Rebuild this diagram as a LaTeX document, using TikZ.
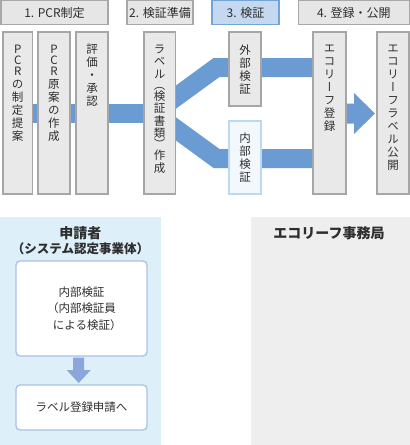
\documentclass[tikz,border=0pt]{standalone}
\usepackage{fontspec}
\setmainfont{Noto Sans CJK JP}
\newfontfamily\vfont[RawFeature=+vert]{Noto Sans CJK JP}
\usetikzlibrary{calc}
\definecolor{txt}{HTML}{2E2E2E}
\definecolor{hdrfill}{HTML}{E6E6E6}
\definecolor{hdrline}{HTML}{A8A8A8}
\definecolor{boxfill}{HTML}{E9E9E9}
\definecolor{boxline}{HTML}{A6A6A6}
\definecolor{selfill}{HTML}{C4D9F0}
\definecolor{selline}{HTML}{74A3D6}
\definecolor{inlfill}{HTML}{F3F8FD}
\definecolor{inlline}{HTML}{BCD9F2}
\definecolor{bandc}{HTML}{6A9BD3}
\definecolor{panelL}{HTML}{DDF0FA}
\definecolor{panelR}{HTML}{EEEEEE}
\definecolor{wline}{HTML}{A9C0E8}
\definecolor{arrowc}{HTML}{8AA6DC}
\pgfdeclarelayer{bg}
\pgfsetlayers{bg,main}
\tikzset{
  hdr/.style={draw=hdrline, fill=hdrfill, line width=1.2pt, inner sep=0pt, text=txt,
    font=\fontsize{12}{14}\selectfont, minimum height=24pt},
  hdrsel/.style={hdr, draw=selline, fill=selfill},
  vbox/.style={draw=boxline, fill=boxfill, line width=1.2pt, inner sep=0pt},
  vboxin/.style={vbox, draw=inlline, fill=inlfill},
  vtxt/.style={anchor=north, inner sep=0pt, align=center, text=txt,
    font=\vfont\fontsize{11.5}{13}\selectfont},
  wbox/.style={draw=wline, fill=white, line width=1.3pt, rounded corners=4pt,
    inner sep=0pt, text=txt, align=center, minimum width=131pt},
  ttl/.style={inner sep=0pt, text=txt, font=\bfseries\fontsize{14}{16}\selectfont},
}
\begin{document}
\begin{tikzpicture}[x=1pt,y=-1pt]
\useasboundingbox (0,0) rectangle (410,445);
% header boxes
\node[hdr, minimum width=107pt] (h1) at (54.5,12.8) {1. PCR制定};
\node[hdr, minimum width=66pt] (h2) at (160,12.8) {2. 検証準備};
\node[hdrsel, minimum width=67pt] (h3) at (245.5,12.8) {3. 検証};
\node[hdr, minimum width=111pt] (h4) at (353.8,12.8) {4. 登録・公開};
% vertical boxes
\node[vbox, minimum width=29.5pt, minimum height=162pt] (b1) at (17.7,113) {};
\node[vbox, minimum width=32pt, minimum height=162pt] (b2) at (54,113) {};
\node[vbox, minimum width=32pt, minimum height=162pt] (b3) at (92,113) {};
\node[vbox, minimum width=31.5pt, minimum height=162pt] (b4) at (159.7,113) {};
\node[vbox, minimum width=32pt, minimum height=74pt] (b5) at (245,69) {};
\node[vboxin, minimum width=32pt, minimum height=73pt] (b6) at (245,157.5) {};
\node[vbox, minimum width=33pt, minimum height=162pt] (b7) at (329.5,113) {};
\node[vbox, minimum width=32pt, minimum height=162pt] (b8) at (393,113) {};
% vertical texts
\node[vtxt] (t1) at ($(b1.north)+(0,13)$) {P\\[-2pt]C\\[-2pt]R\\の\\制\\定\\提\\案};
\node[vtxt] (t2) at ($(b2.north)+(0,13)$) {P\\[-2pt]C\\[-2pt]R\\原\\案\\の\\作\\成};
\node[vtxt] (t3) at ($(b3.north)+(0,13)$) {評\\価\\・\\承\\認};
\node[vtxt, font=\vfont\fontsize{11.5}{12.5}\selectfont] (t4) at ($(b4.north)+(0,13)$)
  {ラ\\ベ\\ル\\[-1.5pt]（\\[-1.5pt]検\\証\\書\\類\\[-1.5pt]）\\[-1.5pt]作\\成};
\node[vtxt] (t5) at ($(b5.north)+(0,13)$) {外\\部\\検\\証};
\node[vtxt] (t6) at ($(b6.north)+(0,12)$) {内\\部\\検\\証};
\node[vtxt] (t7) at ($(b7.north)+(0,13)$) {エ\\コ\\リ\\ー\\フ\\登\\録};
\node[vtxt] (t8) at ($(b8.north)+(0,13)$) {エ\\コ\\リ\\ー\\フ\\ラ\\ベ\\ル\\公\\開};
% bands
\begin{pgfonlayer}{bg}
\draw[bandc, line width=19pt] (b1.center) -- (b4.center);
\fill[bandc] (165,93.5) -- (213.5,58) -- (320,58) -- (320,77) -- (219.5,77) -- (170,113)
  -- (219.5,149) -- (320,149) -- (320,168) -- (213.5,168) -- (165,132.5) -- cycle;
\fill[bandc] (340,103.5) -- (354,103.5) -- (354,93) -- (375,113.5) -- (354,134)
  -- (354,123.5) -- (340,123.5) -- cycle;
\end{pgfonlayer}
% bottom panels
\begin{pgfonlayer}{bg}
\fill[panelL] (0,217) rectangle (161,445);
\fill[panelR] (251,217) rectangle (410,445);
\end{pgfonlayer}
\node[ttl] (s1) at (80.5,233) {申請者};
\node[ttl, font=\bfseries\fontsize{12.5}{14}\selectfont] (s2) at (80.5,249) {（システム認定事業体）};
\node[ttl] (s3) at (329,233) {エコリーフ事務局};
\node[wbox, minimum height=95pt, font=\fontsize{11.5}{16.5}\selectfont] (ib1) at (81.5,308.5)
  {内部検証\\（内部検証員\\\hspace*{1em}による検証）};
\node[wbox, minimum height=45pt, font=\fontsize{11.5}{14}\selectfont] (ib2) at (81.5,407.5)
  {ラベル登録申請へ};
\fill[arrowc] (73.2,357.5) -- (84.2,357.5) -- (84.2,370) -- (90.8,370) -- (78.7,383)
  -- (66.6,370) -- (73.2,370) -- cycle;
\end{tikzpicture}
\end{document}
